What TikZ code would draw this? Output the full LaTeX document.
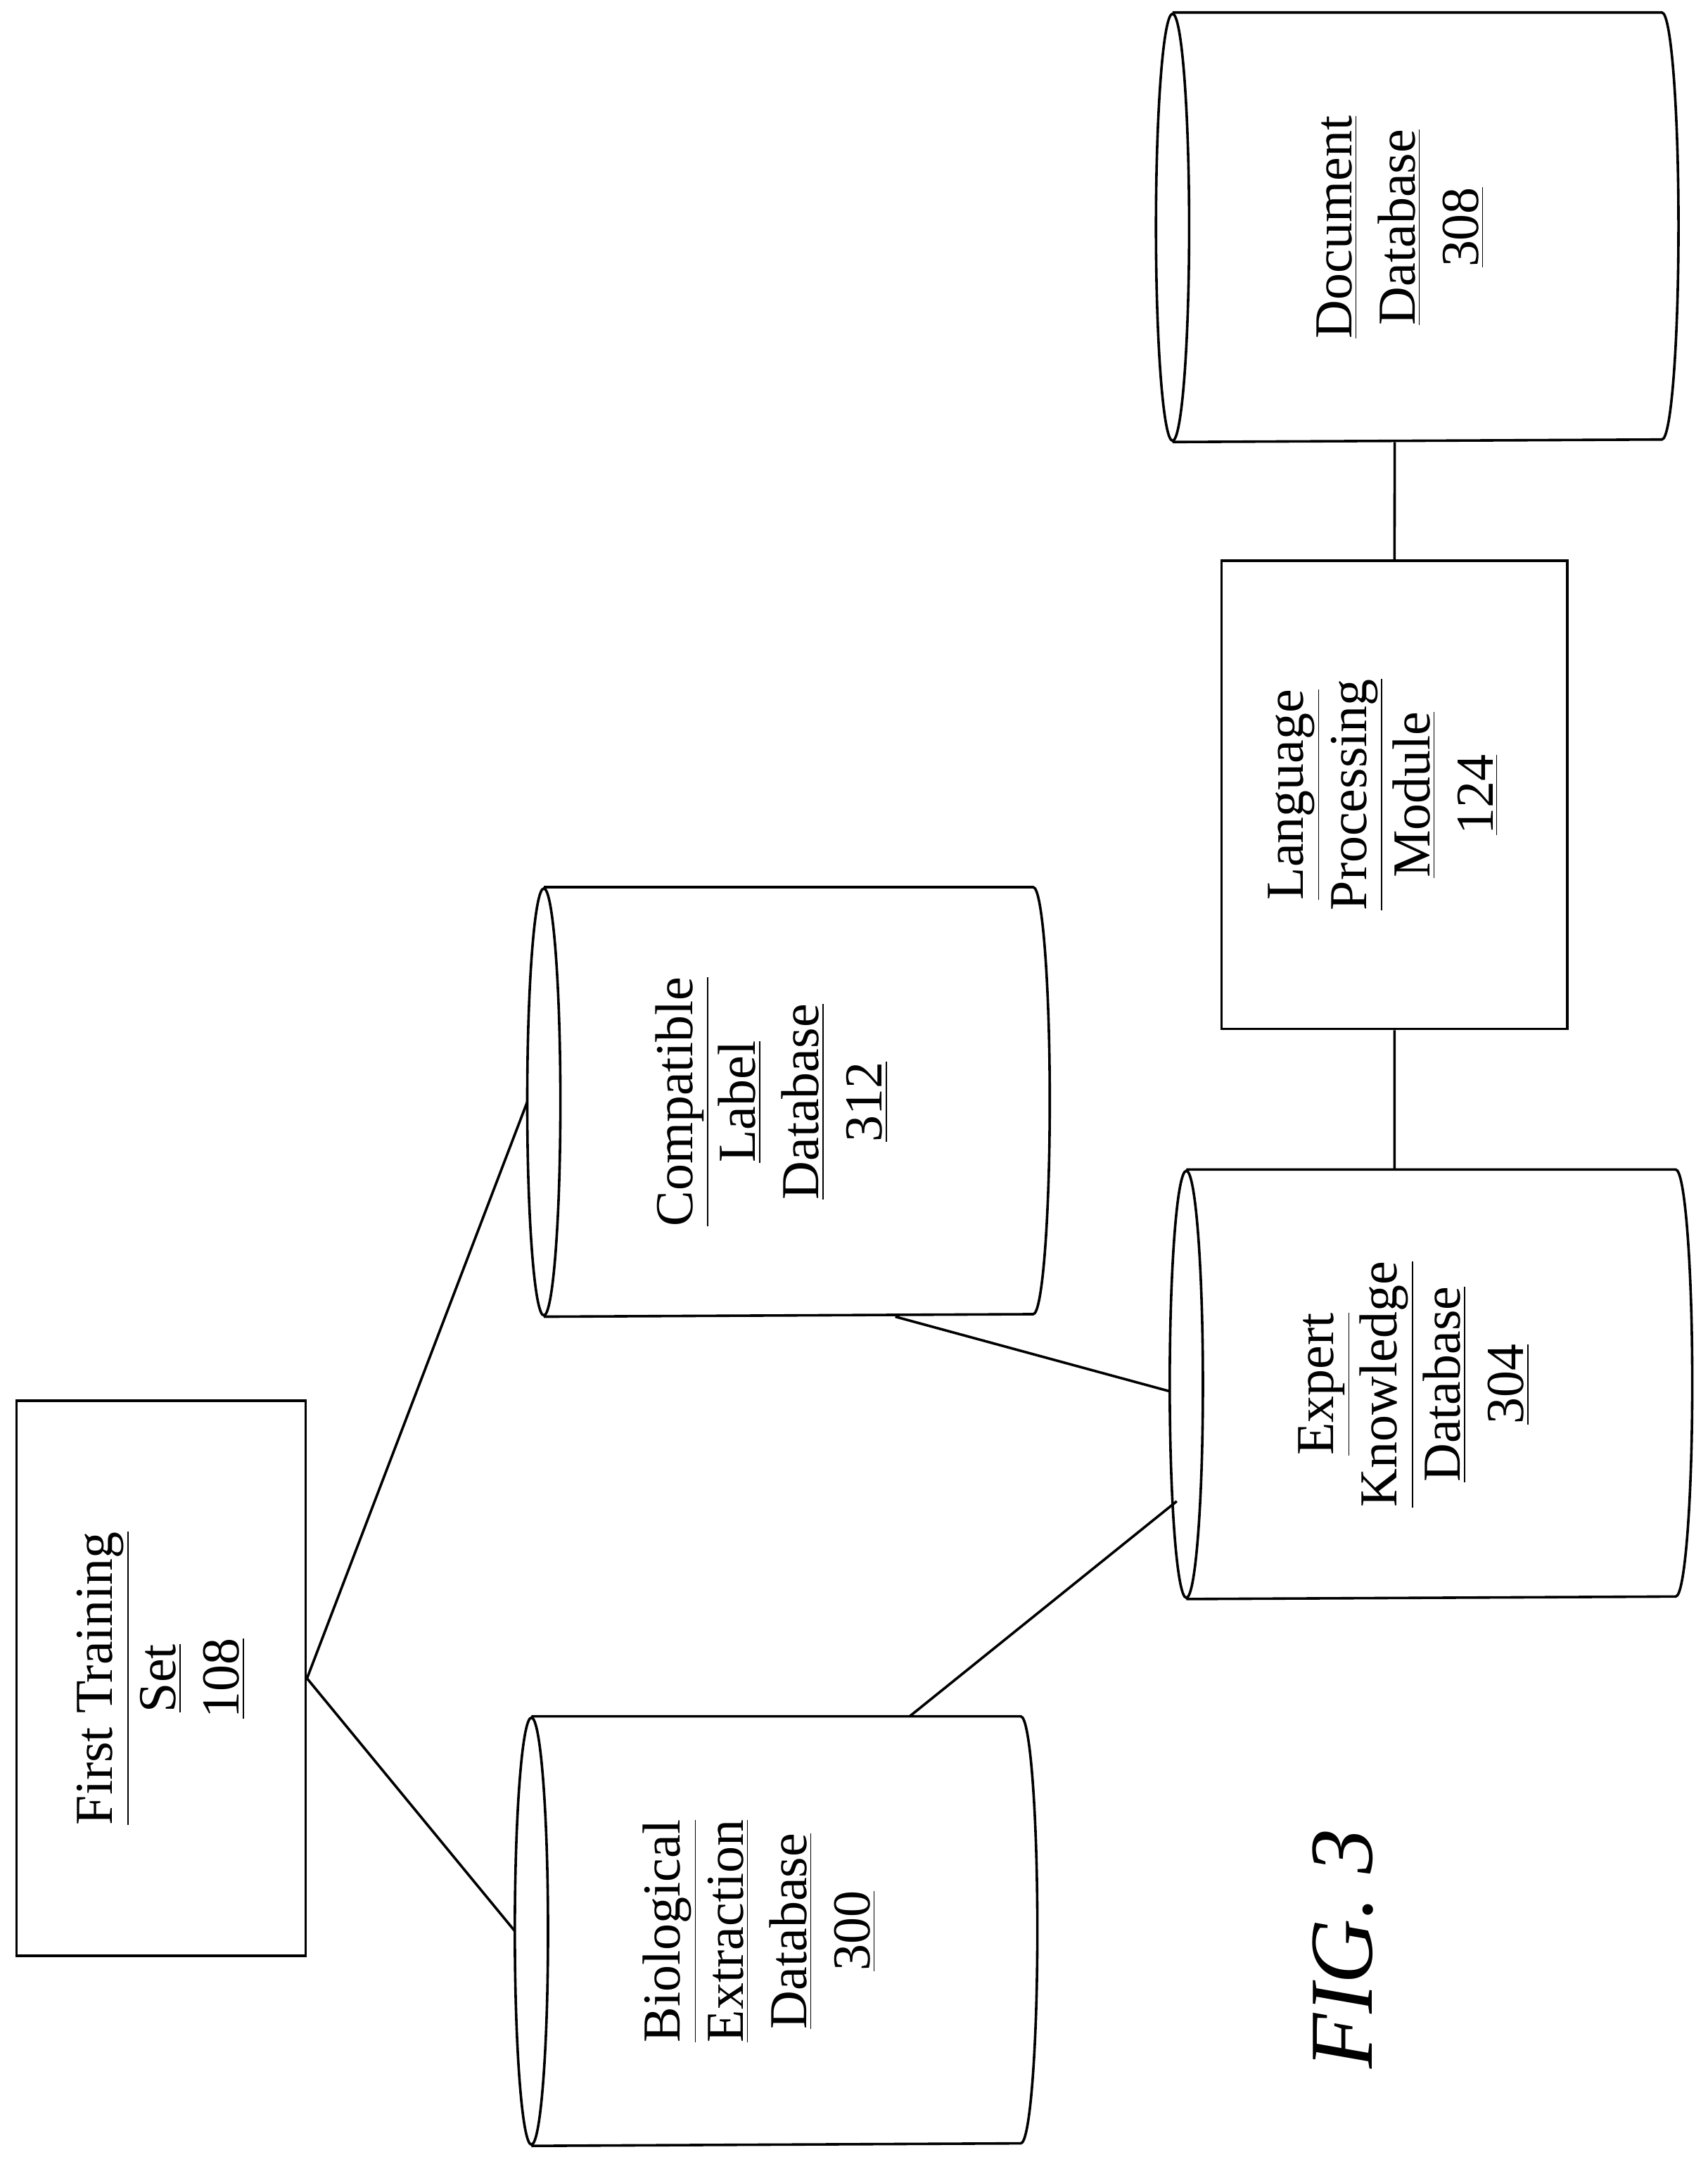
\documentclass[tikz,border=0pt]{standalone}
\usepackage{fontspec}
\setmainfont{Liberation Serif}
\begin{document}
\begin{tikzpicture}[x=0.49pt,y=0.49pt,line width=0.9pt,
  box/.style={draw,rectangle,inner sep=0pt},
  anc/.style={rectangle,inner sep=0pt,minimum height=151.9pt,minimum width=185pt},
  txt/.style={rotate=90,align=center,font=\fontsize{19}{22.5}\selectfont}]
\useasboundingbox (0,0) rectangle (1240,-1566);
\newcommand{\cyl}[1]{%
  \draw ([xshift=5.9pt]#1.west) ellipse [x radius=5.9pt,y radius=75.95pt];
  \draw ([xshift=5.9pt]#1.north west) -- ([xshift=-5.9pt]#1.north east)
    arc[start angle=90,end angle=-90,x radius=5.9pt,y radius=75.95pt]
    -- ([xshift=5.9pt]#1.south west);}
\node[box,minimum width=102.9pt,minimum height=197.5pt] (fts) at (117,-1218.5) {};
\node[txt] at (fts) {\underline{First Training}\\\underline{Set}\\\underline{108}};
\node[box,minimum width=123pt,minimum height=166.6pt] (lpm) at (1012.5,-577) {};
\node[txt] at ([xshift=-4pt]lpm.center) {\underline{Language}\\\underline{Processing}\\\underline{Module}\\\underline{124}};
\node[anc] (bio) at (563.5,-1402) {}; \cyl{bio}
\node[txt] at ([xshift=-6pt]bio.center) {\underline{Biological}\\\underline{Extraction}\\\underline{Database}\\\underline{300}};
\node[anc] (comp) at (572.5,-800) {}; \cyl{comp}
\node[txt] at ([xshift=-6pt]comp.center) {\underline{Compatible}\\\underline{Label}\\\underline{Database}\\\underline{312}};
\node[anc] (exp) at (1039,-1005) {}; \cyl{exp}
\node[txt] at ([xshift=-6pt]exp.center) {\underline{Expert}\\\underline{Knowledge}\\\underline{Database}\\\underline{304}};
\node[anc] (doc) at (1029,-165) {}; \cyl{doc}
\node[txt] at ([xshift=-6pt]doc.center) {\underline{Document}\\\underline{Database}\\\underline{308}};
\node[rotate=90,font=\fontsize{32}{36}\selectfont\itshape] (fig) at (975,-1415) {FIG. 3};
\draw (fts.east) -- (bio.west);
\draw (fts.east) -- (comp.west);
\draw ([xshift=47.5pt]bio.north) -- ([yshift=-41.6pt,xshift=2.5pt]exp.west);
\draw ([xshift=38pt]comp.south) -- ([yshift=-2.5pt]exp.west);
\draw ([xshift=-13pt]exp.north) -- (lpm.south);
\draw (lpm.north) -- ([xshift=-8pt]doc.south);
\end{tikzpicture}
\end{document}
